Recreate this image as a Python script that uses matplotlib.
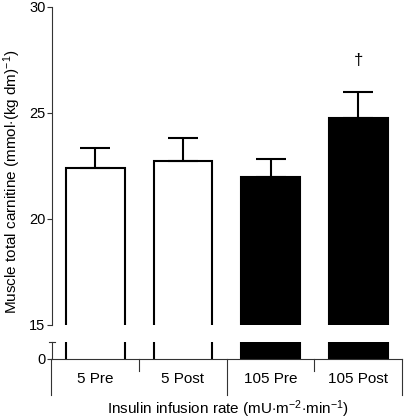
import matplotlib
matplotlib.use('Agg')
import matplotlib.pyplot as plt
import numpy as np

plt.rcParams['font.family'] = ['Liberation Sans', 'DejaVu Sans']
plt.rcParams['mathtext.fontset'] = 'custom'
plt.rcParams['mathtext.rm'] = 'Liberation Sans'
plt.rcParams['mathtext.it'] = 'Liberation Sans:italic'

# data
groups = ['5 Pre', '5 Post', '105 Pre', '105 Post']
carnitine = [22.4, 22.75, 22.0, 24.75]
sem = [0.95, 1.05, 0.85, 1.25]
colors = ['white', 'white', 'black', 'black']

x = np.arange(len(groups))
vals = np.array(carnitine)
W = 0.67
spine_c = '#333333'

fig = plt.figure(figsize=(4.05, 4.2), dpi=100)

# upper part 15-30
ax = fig.add_axes([51.5/405, 95/420, 350.5/405, 318/420])
ax.bar(x, vals - 14, bottom=14, width=W, color=colors, edgecolor='black', linewidth=1.5)
ax.errorbar(x, vals, yerr=[np.zeros(4), sem], fmt='none', ecolor='black',
            elinewidth=1.5, capsize=10.8, capthick=1.5)
ax.text(3, 27.5, '\u2020', ha='center', va='center', fontsize=12)
ax.set_xlim(-0.5, 3.5)
ax.set_ylim(15, 30)
ax.set_yticks([15, 20, 25, 30])
ax.set_xticks([])
for s in ['top', 'right', 'bottom']:
    ax.spines[s].set_visible(False)
ax.spines['left'].set_color(spine_c)
ax.spines['left'].set_linewidth(0.8)
ax.tick_params(axis='y', length=3.3, width=0.8, color=spine_c, labelsize=10.5, pad=1)

# lower part near 0
ax2 = fig.add_axes([51.5/405, 61/420, 350.5/405, 17/420])
ax2.bar(x, 3, bottom=-1, width=W, color=colors, edgecolor='black', linewidth=1.5)
ax2.set_xlim(-0.5, 3.5)
ax2.set_ylim(0, 1)
ax2.set_yticks([0])
ax2.set_xticks([])
for s in ['top', 'right']:
    ax2.spines[s].set_visible(False)
for s in ['left', 'bottom']:
    ax2.spines[s].set_color(spine_c)
    ax2.spines[s].set_linewidth(0.8)
ax2.tick_params(axis='y', length=3.3, width=0.8, color=spine_c, labelsize=10.5, pad=1)
ax2.plot([-0.53, -0.46], [1, 1], color=spine_c, lw=0.8, clip_on=False)

# group separators below the axis
for xs, depth in [(-0.5, -2.12), (0.5, -0.7), (1.5, -2.12), (2.5, -0.7), (3.5, -2.12)]:
    ax2.plot([xs, xs], [0, depth], color=spine_c, lw=0.8, clip_on=False)
for i, g in enumerate(groups):
    ax2.text(i, -1.18, g, ha='center', va='center', fontsize=11)

fig.text(228/405, 11/420, 'Insulin infusion rate (mU$\\cdot$m$^{-2}$$\\cdot$min$^{-1}$)',
         ha='center', va='center', fontsize=11)
fig.text(12/405, 238/420, 'Muscle total carnitine (mmol$\\cdot$(kg dm)$^{-1}$)',
         ha='center', va='center', rotation=90, fontsize=11)

fig.savefig('out.png', dpi=100)
